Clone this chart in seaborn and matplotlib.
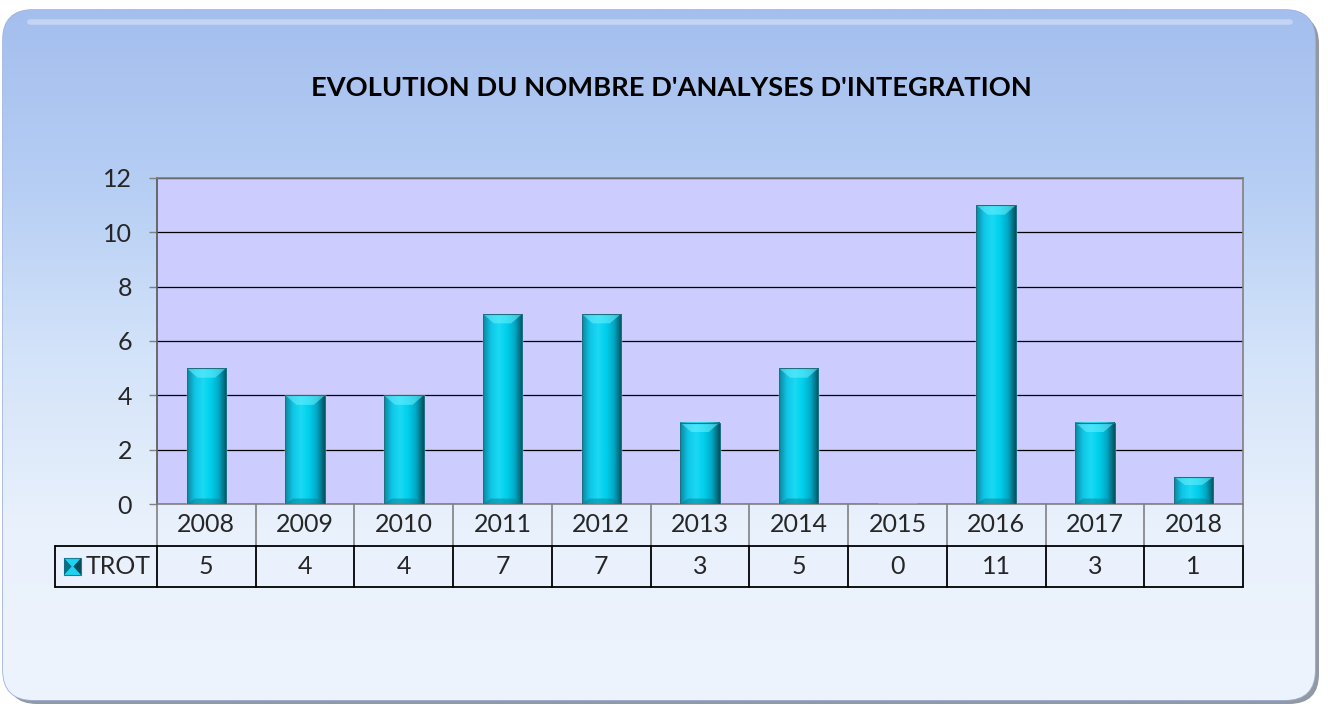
import numpy as np
import pandas as pd
import matplotlib
matplotlib.use("Agg")
import matplotlib.pyplot as plt
import matplotlib.transforms as mtransforms
from matplotlib.patches import FancyBboxPatch, Rectangle, Polygon
from matplotlib.colors import LinearSegmentedColormap
import seaborn as sns

# data
years = ["2008", "2009", "2010", "2011", "2012", "2013", "2014", "2015", "2016", "2017", "2018"]
trot = [5, 4, 4, 7, 7, 3, 5, 0, 11, 3, 1]
series_name = "TROT"
title = "EVOLUTION DU NOMBRE D'ANALYSES D'INTEGRATION"
y_ticks = [0, 2, 4, 6, 8, 10, 12]

sns.set_theme(style="white")
plt.rcParams["font.family"] = ["Lato", "DejaVu Sans"]

W, H = 1328, 706
FS = 18
fig = plt.figure(figsize=(W / 100, H / 100), dpi=100)

# background panel (pixel coords, y down)
bg = fig.add_axes([0, 0, 1, 1])
bg.set_xlim(0, W)
bg.set_ylim(H, 0)
bg.axis("off")
shadow = FancyBboxPatch((7, 14), 1312, 690, boxstyle="round,pad=0,rounding_size=30",
                        fc="#4a5568", ec="none", alpha=0.6)
bg.add_patch(shadow)
panel = FancyBboxPatch((3, 10), 1312, 690, boxstyle="round,pad=0,rounding_size=30",
                       fc="#dfeafb", ec="#9db3da", lw=1.2)
bg.add_patch(panel)
grad = np.linspace(0, 1, 256).reshape(-1, 1)
bg_cmap = LinearSegmentedColormap.from_list("bgc", ["#a4beee", "#b6cef4", "#d3e3f9", "#e9f1fc", "#eef4fd"])
im = bg.imshow(grad, cmap=bg_cmap, extent=[3, 1315, 700, 10], aspect="auto", zorder=2)
im.set_clip_path(panel)
bg.plot([30, 1290], [22, 22], color="white", lw=4, alpha=0.35, zorder=3, solid_capstyle="round")

bg.text(671, 88, title, ha="center", va="center", fontsize=19.6, fontweight="bold", color="black", zorder=4)

# main axes
ax = fig.add_axes([157 / W, 1 - 504 / H, 1086 / W, 326 / H])
df = pd.DataFrame({"year": years, "count": trot})
sns.barplot(data=df, x="year", y="count", color="#00c8ec", width=0.4, saturation=1, ax=ax, zorder=3)
ax.set_facecolor("#ccccfe")
ax.set_ylim(0, 12)
ax.set_xlim(-0.5, len(years) - 0.5)
ax.set_yticks(y_ticks)
ax.set_yticklabels([str(t) for t in y_ticks], fontsize=FS)
ax.yaxis.grid(True, color="black", lw=0.9)
ax.set_axisbelow(True)
ax.set_xlabel("")
ax.set_ylabel("")
ax.set_xticklabels([])
ax.tick_params(axis="x", length=0)
ax.tick_params(axis="y", length=6, width=1, color="#808080", left=True, pad=12, direction="out")
for s in ax.spines.values():
    s.set_color("#808080")
    s.set_linewidth(1.2)
ax.spines["left"].set_color("#555555")

# bevel gradient on bars
bar_cmap = LinearSegmentedColormap.from_list(
    "bar", ["#0a86a0", "#10c6e6", "#1ad9f4", "#00d0ec", "#00a9c6", "#04505e"])
hgrad = np.linspace(0, 1, 128).reshape(1, -1)
for p in ax.patches:
    x0, w, h = p.get_x(), p.get_width(), p.get_height()
    if h <= 0:
        continue
    bi = ax.imshow(hgrad, cmap=bar_cmap, extent=[x0, x0 + w, 0, h], aspect="auto", zorder=4)
    bi.set_clip_path(p)
    cap = min(0.35, h * 0.3)
    ax.add_patch(Polygon([[x0, h], [x0 + w, h], [x0 + w * 0.72, h - cap], [x0 + w * 0.28, h - cap]],
                         closed=True, fc="#6ff0ff", ec="none", alpha=0.55, zorder=5))
    ax.add_patch(Polygon([[x0, 0], [x0 + w, 0], [x0 + w * 0.8, 0.2], [x0 + w * 0.2, 0.2]],
                         closed=True, fc="#0a7d93", ec="none", alpha=0.5, zorder=5))
    ax.add_patch(Rectangle((x0, 0), w, h, fc="none", ec="#1f6f80", lw=0.8, zorder=6))
ax.set_xlim(-0.5, len(years) - 0.5)
ax.set_ylim(0, 12)

# data table under the axis
tr = mtransforms.blended_transform_factory(ax.transData, ax.transAxes)
row_h1 = 42 / 326
row_h2 = 41 / 326
y_hdr = -row_h1
y_bot = -row_h1 - row_h2
lab_left = -0.5 - 102 / 98.7
for i, (yr, v) in enumerate(zip(years, trot)):
    ax.text(i, -row_h1 / 2, yr, transform=tr, ha="center", va="center", fontsize=FS, clip_on=False)
    ax.text(i, y_hdr - row_h2 / 2, str(v), transform=tr, ha="center", va="center", fontsize=FS, clip_on=False)
for k in range(len(years) + 1):
    xk = k - 0.5
    ax.plot([xk, xk], [0, y_hdr], transform=tr, color="#777777", lw=1.1, clip_on=False)
    ax.plot([xk, xk], [y_hdr, y_bot], transform=tr, color="black", lw=1.3, clip_on=False)
ax.plot([lab_left, lab_left], [y_hdr, y_bot], transform=tr, color="black", lw=1.3, clip_on=False)
ax.plot([lab_left, len(years) - 0.5], [y_hdr, y_hdr], transform=tr, color="black", lw=1.3, clip_on=False)
ax.plot([lab_left, len(years) - 0.5], [y_bot, y_bot], transform=tr, color="black", lw=1.3, clip_on=False)

# legend key in row label cell
kx, ky, ks = 64, 558, 17
bg.add_patch(Rectangle((kx, ky), ks, ks, fc="#1fd2ef", ec="#1b7f93", lw=0.8, zorder=4))
bg.add_patch(Polygon([[kx, ky], [kx + ks * 0.45, ky + ks / 2], [kx, ky + ks]], fc="#0a6f84", ec="none", zorder=5))
bg.add_patch(Polygon([[kx + ks, ky], [kx + ks * 0.55, ky + ks / 2], [kx + ks, ky + ks]], fc="#064e5c", ec="none", zorder=5))
bg.text(86, 566, series_name, ha="left", va="center", fontsize=FS, zorder=4)

fig.savefig("out.png", dpi=100)
